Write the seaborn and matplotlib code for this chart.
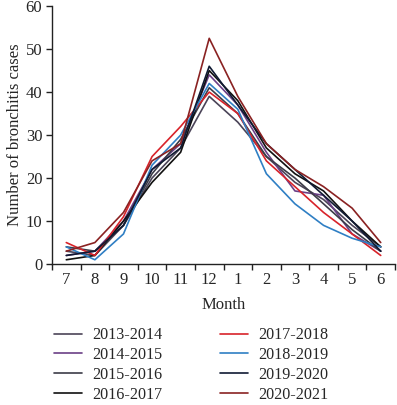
import numpy as np
import pandas as pd
import seaborn as sns
import matplotlib.pyplot as plt
from matplotlib.ticker import FixedLocator

months = ["7", "8", "9", "10", "11", "12", "1", "2", "3", "4", "5", "6"]

s2013 = [3, 2, 9, 20, 27, 39, 33, 25, 19, 15, 9, 4]
s2014 = [2, 3, 10, 22, 28, 44, 37, 26, 17, 16, 7, 3]
s2015 = [4, 3, 9, 21, 29, 41, 35, 25, 20, 14, 8, 3]
s2016 = [1, 2, 10, 19, 26, 45, 38, 27, 21, 17, 10, 4]
s2017 = [5, 2, 11, 25, 32, 40, 35, 24, 18, 12, 7, 2]
s2018 = [4, 1, 7, 23, 30, 42, 36, 21, 14, 9, 6, 4]
s2019 = [2, 3, 9, 22, 27, 46, 37, 28, 22, 16, 10, 3]
s2020 = [3, 5, 12, 24, 28, 52.5, 39, 28, 22, 18, 13, 5]

seasons = ["2013-2014", "2014-2015", "2015-2016", "2016-2017",
           "2017-2018", "2018-2019", "2019-2020", "2020-2021"]
series = [s2013, s2014, s2015, s2016, s2017, s2018, s2019, s2020]
colors = ["#4b4458", "#6b3f86", "#3c3c48", "#111111",
          "#d8232a", "#2f7fc4", "#101a33", "#8a2222"]

rows = []
for season, vals in zip(seasons, series):
    for i, (m, v) in enumerate(zip(months, vals)):
        rows.append({"pos": i, "Month": m, "cases": v, "season": season})
df = pd.DataFrame(rows)

sns.set_theme(style="white")
plt.rcParams["font.family"] = ["Liberation Serif", "DejaVu Serif"]

fig = plt.figure(figsize=(3.97, 4.05), dpi=100)
ax = fig.add_axes([0.131, 0.348, 0.864, 0.637])

sns.lineplot(data=df, x="pos", y="cases", hue="season",
             palette=dict(zip(seasons, colors)), linewidth=1.2, ax=ax)

ax.set_xlim(-0.5, 11.5)
ax.set_ylim(0, 60)
ax.set_yticks(range(0, 61, 10))
ax.set_xticks(range(12))
ax.set_xticklabels(months)
ax.xaxis.set_minor_locator(FixedLocator(np.arange(-0.5, 12, 1)))
ax.tick_params(axis="x", which="major", length=0, labelsize=12, pad=6)
ax.tick_params(axis="x", which="minor", length=4, width=1, color="#222222",
               direction="out", bottom=True)
ax.tick_params(axis="y", length=4, width=1, color="#222222", direction="out",
               left=True, labelsize=12, pad=3)
for s in ["top", "right"]:
    ax.spines[s].set_visible(False)
for s in ["left", "bottom"]:
    ax.spines[s].set_color("#222222")
    ax.spines[s].set_linewidth(1)

ax.set_xlabel("Month", fontsize=12, labelpad=6)
ax.set_ylabel("Number of bronchitis cases", fontsize=12, labelpad=2)

handles, labels = ax.get_legend_handles_labels()
ax.legend(handles, labels,
          ncol=2, frameon=False, loc="upper center",
          bbox_to_anchor=(0.405, -0.22), fontsize=11.6,
          handlelength=1.75, handletextpad=0.6, columnspacing=3.6,
          labelspacing=0.24, borderaxespad=0)

fig.savefig("out.png", dpi=100)
